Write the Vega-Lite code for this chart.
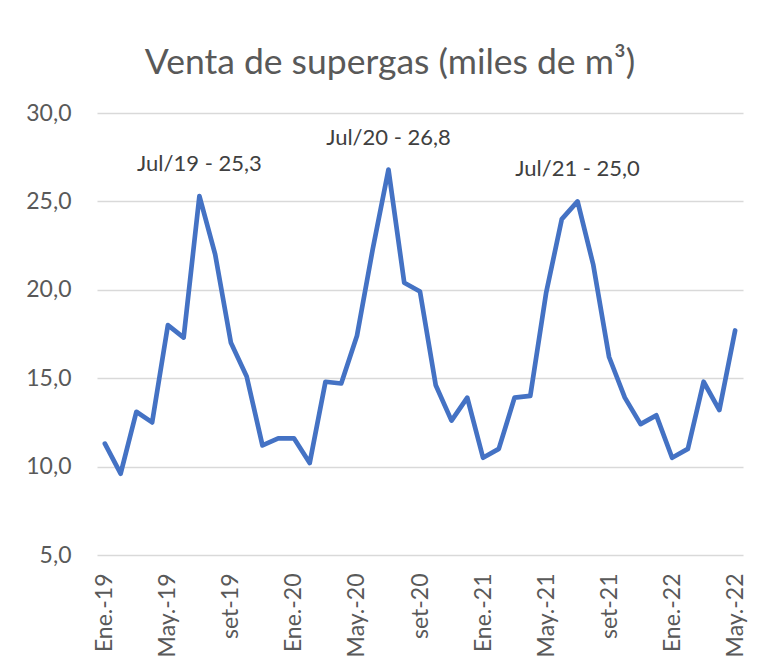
{
  "$schema": "https://vega.github.io/schema/vega-lite/v6.json",
  "width": 646,
  "height": 442,
  "autosize": {"type": "none"},
  "padding": {"left": 97, "top": 113, "right": 24, "bottom": 116},
  "background": "white",
  "title": {
    "text": "Venta de supergas (miles de m³)",
    "font": "Lato",
    "fontSize": 35.5,
    "fontWeight": "normal",
    "color": "#595959",
    "anchor": "middle",
    "baseline": "alphabetic",
    "offset": -7,
    "dx": -30
  },
  "config": {
    "view": {"stroke": null},
    "font": "Lato"
  },
  "data": {
    "values": [
      {"mes": "Ene.-19", "venta": 11.3},
      {"mes": "Feb.-19", "venta": 9.6},
      {"mes": "Mar.-19", "venta": 13.1},
      {"mes": "Abr.-19", "venta": 12.5},
      {"mes": "May.-19", "venta": 18.0},
      {"mes": "Jun.-19", "venta": 17.3},
      {"mes": "Jul.-19", "venta": 25.3, "etiqueta": "Jul/19 - 25,3"},
      {"mes": "Ago.-19", "venta": 22.0},
      {"mes": "set-19", "venta": 17.0},
      {"mes": "Oct.-19", "venta": 15.1},
      {"mes": "Nov.-19", "venta": 11.2},
      {"mes": "Dic.-19", "venta": 11.6},
      {"mes": "Ene.-20", "venta": 11.6},
      {"mes": "Feb.-20", "venta": 10.2},
      {"mes": "Mar.-20", "venta": 14.8},
      {"mes": "Abr.-20", "venta": 14.7},
      {"mes": "May.-20", "venta": 17.4},
      {"mes": "Jun.-20", "venta": 22.3},
      {"mes": "Jul.-20", "venta": 26.8, "etiqueta": "Jul/20 - 26,8"},
      {"mes": "Ago.-20", "venta": 20.4},
      {"mes": "set-20", "venta": 19.9},
      {"mes": "Oct.-20", "venta": 14.6},
      {"mes": "Nov.-20", "venta": 12.6},
      {"mes": "Dic.-20", "venta": 13.9},
      {"mes": "Ene.-21", "venta": 10.5},
      {"mes": "Feb.-21", "venta": 11.0},
      {"mes": "Mar.-21", "venta": 13.9},
      {"mes": "Abr.-21", "venta": 14.0},
      {"mes": "May.-21", "venta": 19.8},
      {"mes": "Jun.-21", "venta": 24.0},
      {"mes": "Jul.-21", "venta": 25.0, "etiqueta": "Jul/21 - 25,0"},
      {"mes": "Ago.-21", "venta": 21.4},
      {"mes": "set-21", "venta": 16.2},
      {"mes": "Oct.-21", "venta": 13.9},
      {"mes": "Nov.-21", "venta": 12.4},
      {"mes": "Dic.-21", "venta": 12.9},
      {"mes": "Ene.-22", "venta": 10.5},
      {"mes": "Feb.-22", "venta": 11.0},
      {"mes": "Mar.-22", "venta": 14.8},
      {"mes": "Abr.-22", "venta": 13.2},
      {"mes": "May.-22", "venta": 17.7}
    ]
  },
  "encoding": {
    "x": {
      "field": "mes",
      "type": "ordinal",
      "sort": null,
      "scale": {"type": "point", "padding": 0.5},
      "axis": {
        "title": null,
        "values": ["Ene.-19", "May.-19", "set-19", "Ene.-20", "May.-20", "set-20", "Ene.-21", "May.-21", "set-21", "Ene.-22", "May.-22"],
        "labelAngle": -90,
        "labelAlign": "right",
        "labelBaseline": "middle",
        "labelFont": "Lato",
        "labelFontSize": 23,
        "labelColor": "#595959",
        "labelPadding": 18,
        "ticks": false,
        "domain": false,
        "grid": false
      }
    },
    "y": {
      "field": "venta",
      "type": "quantitative",
      "scale": {"domain": [5, 30], "nice": false, "zero": false},
      "axis": {
        "title": null,
        "values": [5, 10, 15, 20, 25, 30],
        "labelExpr": "replace(format(datum.value, '.1f'), '.', ',')",
        "labelFont": "Lato",
        "labelFontSize": 23,
        "labelColor": "#595959",
        "labelPadding": 26,
        "ticks": false,
        "domain": false,
        "grid": true,
        "gridColor": "#D9D9D9",
        "gridWidth": 1.5
      }
    }
  },
  "layer": [
    {
      "mark": {"type": "line", "color": "#4472C4", "strokeWidth": 4.7, "strokeJoin": "round", "strokeCap": "round"}
    },
    {
      "transform": [{"filter": "datum.etiqueta"}],
      "mark": {"type": "text", "font": "Lato", "fontSize": 22, "color": "#404040", "dy": -32, "baseline": "middle", "align": "center"},
      "encoding": {"text": {"field": "etiqueta"}}
    }
  ]
}
